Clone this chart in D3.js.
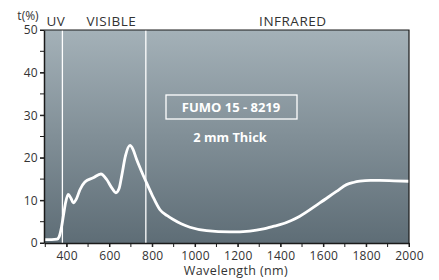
<!DOCTYPE html>
<html>
<head>
<meta charset="utf-8">
<script src="https://cdn.jsdelivr.net/npm/d3@7"></script>
<style>
  body { margin: 0; background: #ffffff; }
  svg { display: block; font-family: "Open Sans", "Noto Sans", sans-serif; }
</style>
</head>
<body>
<div id="chart"></div>
<script>
// Transmission curve (wavelength nm, transmission %)
const wavelengths = [294, 330, 355, 365, 375, 385, 395, 407, 420, 431, 445, 462, 485, 524, 560, 587, 610, 630, 645, 657, 675, 696, 710, 727, 750, 770, 800, 836, 870, 898, 935, 976, 1054, 1163, 1256, 1320, 1365, 1397, 1450, 1490, 1583, 1661, 1708, 1740, 1770, 1820, 1863, 1930, 2000];
const transmission = [0.8, 0.8, 0.9, 1.5, 3.5, 6.5, 9.5, 11.4, 10.5, 9.4, 10.3, 12.5, 14.3, 15.3, 16.2, 14.9, 13.0, 11.8, 12.8, 15.7, 20.5, 22.9, 22.0, 19.6, 16.8, 14.5, 11.2, 7.8, 6.4, 5.5, 4.5, 3.7, 2.9, 2.6, 2.8, 3.3, 3.9, 4.3, 5.3, 6.3, 9.4, 12.1, 13.7, 14.2, 14.5, 14.7, 14.7, 14.6, 14.5];

// Band borders and labels
const bandLines = [380, 770];
const bandLabels = [
    { text: "UV", wl: 350 },
    { text: "VISIBLE", wl: 609 },
    { text: "INFRARED", wl: 1457 }
];

const xMinorTicks = d3.range(300, 2001, 100);
const xLabels = d3.range(400, 2001, 200);
const yMinorTicks = d3.range(0, 51, 5);
const yLabels = d3.range(0, 51, 10);

const width = 439;
const height = 280;
const margin = { top: 30, right: 30, bottom: 37, left: 44 };
const innerWidth = width - margin.left - margin.right;
const innerHeight = height - margin.top - margin.bottom;

const svg = d3.select("#chart")
    .append("svg")
    .attr("width", width)
    .attr("height", height);

// background gradient of the plot area
const defs = svg.append("defs");
const grad = defs.append("linearGradient")
    .attr("id", "bg")
    .attr("x1", 0).attr("y1", 0)
    .attr("x2", 0).attr("y2", 1);
grad.append("stop").attr("offset", "0%").attr("stop-color", "#a4b1b8");
grad.append("stop").attr("offset", "100%").attr("stop-color", "#5e6d76");

const g = svg.append("g")
    .attr("transform", `translate(${margin.left}, ${margin.top})`);

const x = d3.scaleLinear()
    .domain([294, 2000])
    .range([0, innerWidth]);

const y = d3.scaleLinear()
    .domain([0, 50])
    .range([innerHeight, 0]);

g.append("rect")
    .attr("width", innerWidth)
    .attr("height", innerHeight)
    .attr("fill", "url(#bg)");

// vertical band separators
g.selectAll(".band")
    .data(bandLines)
    .join("line")
    .attr("class", "band")
    .attr("x1", d => x(d)).attr("x2", d => x(d))
    .attr("y1", 0).attr("y2", innerHeight)
    .attr("stroke", "#ffffff")
    .attr("stroke-width", 1.3);

// the curve
const pts = wavelengths.map((w, i) => [w, transmission[i]]);
const line = d3.line()
    .x(d => x(d[0]))
    .y(d => y(d[1]))
    .curve(d3.curveMonotoneX);

g.append("path")
    .datum(pts)
    .attr("d", line)
    .attr("fill", "none")
    .attr("stroke", "#ffffff")
    .attr("stroke-width", 2.8)
    .attr("stroke-linejoin", "round");

// frame on top and right
g.append("path")
    .attr("d", `M0,0H${innerWidth}V${innerHeight}`)
    .attr("fill", "none")
    .attr("stroke", "#1a1a1a")
    .attr("stroke-width", 1.2);

// minor ticks (no labels)
g.selectAll(".xminor")
    .data(xMinorTicks)
    .join("line")
    .attr("class", "xminor")
    .attr("x1", d => x(d)).attr("x2", d => x(d))
    .attr("y1", innerHeight).attr("y2", innerHeight + 4)
    .attr("stroke", "#1a1a1a");

g.selectAll(".yminor")
    .data(yMinorTicks)
    .join("line")
    .attr("class", "yminor")
    .attr("x1", -4).attr("x2", 0)
    .attr("y1", d => y(d)).attr("y2", d => y(d))
    .attr("stroke", "#1a1a1a");

// labelled axes
const xAxis = g.append("g")
    .attr("transform", `translate(0, ${innerHeight})`)
    .call(d3.axisBottom(x)
        .tickValues(xLabels)
        .tickSize(4)
        .tickSizeOuter(0)
        .tickFormat(d3.format("d")));

const yAxis = g.append("g")
    .call(d3.axisLeft(y)
        .tickValues(yLabels)
        .tickSize(4)
        .tickPadding(2)
        .tickSizeOuter(0)
        .tickFormat(d3.format("d")));

[xAxis, yAxis].forEach(a => {
    a.select(".domain").attr("stroke", "#1a1a1a").attr("stroke-width", 1.5);
    a.selectAll(".tick line").attr("stroke", "#1a1a1a");
    a.selectAll(".tick text")
        .attr("fill", "#333333")
        .style("font-size", "12px")
        .style("letter-spacing", "0.3px")
        .style("font-family", "'Open Sans', sans-serif");
});
xAxis.selectAll(".tick text").attr("dy", "0.85em");

// band labels
svg.selectAll(".bandLabel")
    .data(bandLabels)
    .join("text")
    .attr("class", "bandLabel")
    .attr("x", d => margin.left + x(d.wl))
    .attr("y", margin.top - 4)
    .attr("text-anchor", "middle")
    .attr("fill", "#333333")
    .style("font-size", "13.5px")
    .style("letter-spacing", "0.5px")
    .text(d => d.text);

svg.append("text")
    .attr("x", 28)
    .attr("y", 19.5)
    .attr("text-anchor", "middle")
    .attr("fill", "#333333")
    .style("font-size", "12px")
    .text("t(%)");

svg.append("text")
    .attr("x", 236)
    .attr("y", 275)
    .attr("text-anchor", "middle")
    .attr("fill", "#333333")
    .style("font-size", "12.5px")
    .style("letter-spacing", "0.4px")
    .text("Wavelength (nm)");

// annotation box
g.append("rect")
    .attr("x", 166 - margin.left)
    .attr("y", 95 - margin.top)
    .attr("width", 131)
    .attr("height", 24)
    .attr("fill", "none")
    .attr("stroke", "#ffffff")
    .attr("stroke-width", 1.3);

svg.append("text")
    .attr("x", 231)
    .attr("y", 112)
    .attr("text-anchor", "middle")
    .attr("fill", "#ffffff")
    .style("font-size", "13px")
    .style("font-weight", "bold")
    .text("FUMO 15 - 8219");

svg.append("text")
    .attr("x", 230)
    .attr("y", 142)
    .attr("text-anchor", "middle")
    .attr("fill", "#ffffff")
    .style("font-size", "12.8px")
    .style("font-weight", "bold")
    .text("2 mm Thick");
</script>
</body>
</html>
